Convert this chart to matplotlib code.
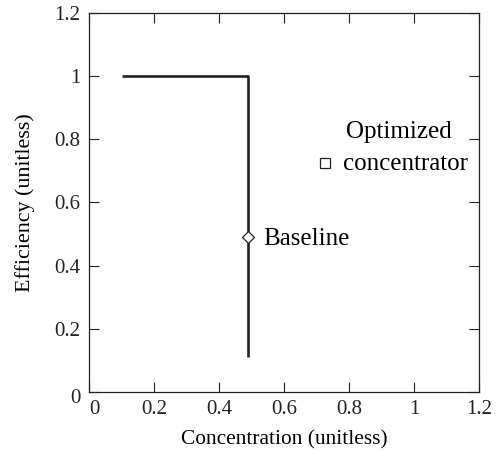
import matplotlib
matplotlib.use("Agg")
import matplotlib.pyplot as plt
import matplotlib.transforms as mtransforms

# Efficiency-vs-concentration trade-off curve
curve_x = [0.10, 0.49, 0.49]
curve_y = [1.00, 1.00, 0.11]

baseline_pt = (0.49, 0.49)
optimized_pt = (0.725, 0.725)

ticks = [0, 0.2, 0.4, 0.6, 0.8, 1.0, 1.2]
tick_labels = ["0", "0.2", "0.4", "0.6", "0.8", "1", "1.2"]

plt.rcParams["font.family"] = ["Liberation Serif", "DejaVu Serif"]

fig = plt.figure(figsize=(4.96, 4.51), dpi=100)
ax = fig.add_axes([89 / 496, 1 - 392 / 451, 390 / 496, 379 / 451])

ax.plot(curve_x, curve_y, color="#222222", lw=1.9,
        solid_joinstyle="round", solid_capstyle="butt")
ax.plot(*baseline_pt, marker="D", ms=6.4, mfc="white", mec="#222222", mew=0.9,
        ls="none", zorder=3)
ax.plot(*optimized_pt, marker="s", ms=6.6, mfc="white", mec="#222222", mew=0.9,
        ls="none", zorder=3)

ax.text(0.535, 0.485, "Baseline", fontsize=18, ha="left", va="center")
ax.text(0.952, 0.804, "Optimized", fontsize=18, ha="center", va="baseline")
ax.text(0.7815, 0.703, "concentrator", fontsize=18, ha="left", va="baseline")

ax.set_xlim(0, 1.2)
ax.set_ylim(0, 1.2)
ax.set_xticks(ticks)
ax.set_xticklabels(tick_labels)
ax.set_yticks(ticks)
ax.set_yticklabels(tick_labels)
ax.tick_params(direction="in", length=7, width=0.8, top=True, right=True,
               labelsize=15, pad=6, colors="#222222")
for s in ax.spines.values():
    s.set_linewidth(0.9)
    s.set_color("#222222")

ax.set_xlabel("Concentration (unitless)", fontsize=15.4, labelpad=8)
ax.set_ylabel("Efficiency (unitless)", fontsize=15.8, labelpad=14)

# nudge the shared origin labels away from the corner
fig.canvas.draw()
xl0 = ax.get_xticklabels()[0]
xl0.set_transform(xl0.get_transform() + mtransforms.ScaledTranslation(5 / 100, 0, fig.dpi_scale_trans))
yl0 = ax.get_yticklabels()[0]
yl0.set_transform(yl0.get_transform() + mtransforms.ScaledTranslation(0, -4 / 100, fig.dpi_scale_trans))

fig.savefig("out.png", dpi=100, facecolor="white")
